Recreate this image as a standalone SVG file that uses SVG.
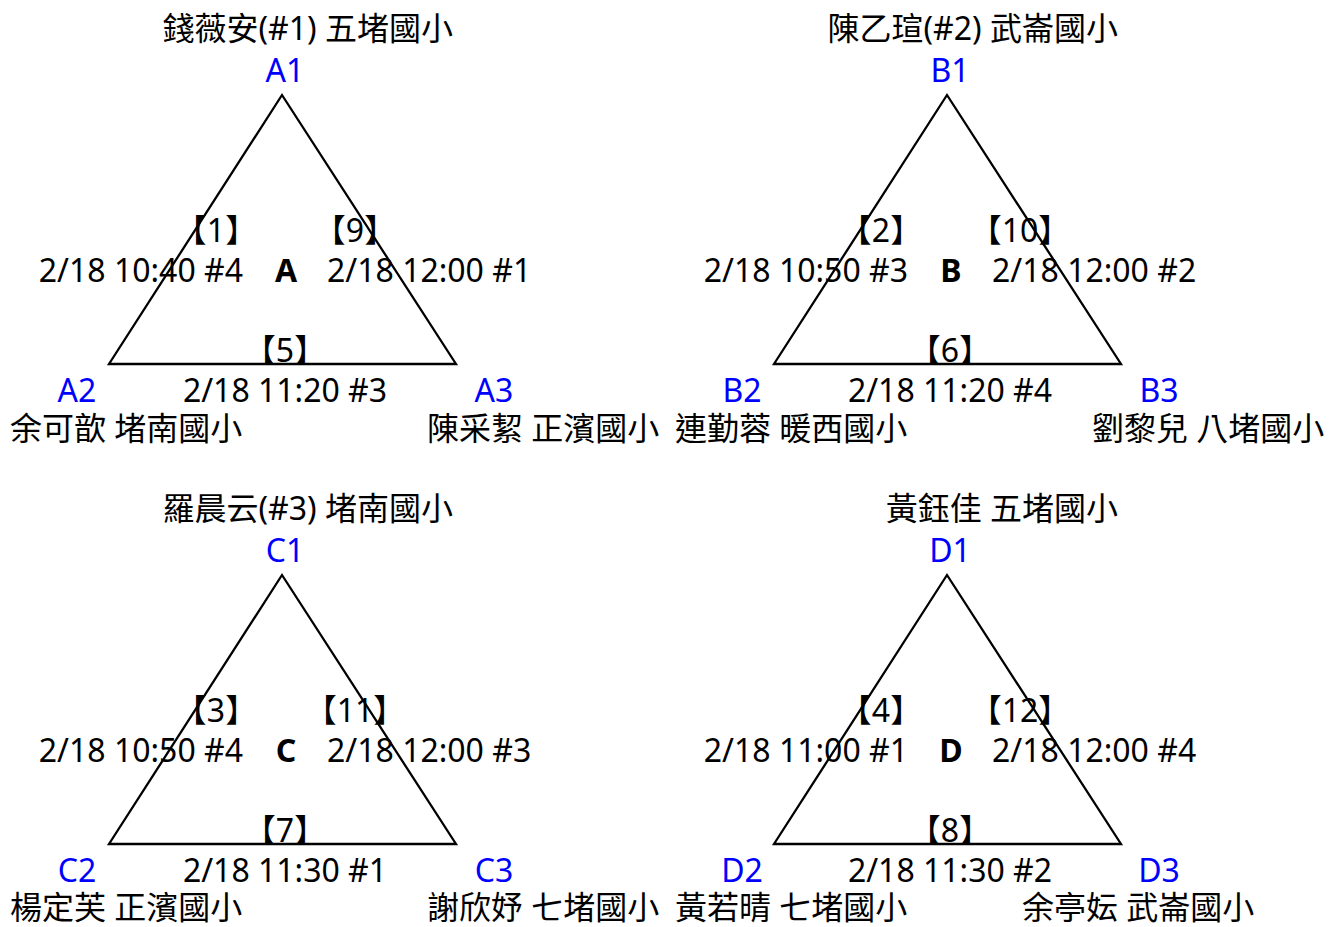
<svg xmlns="http://www.w3.org/2000/svg" width="1329" height="927" viewBox="0 0 1329 927">
<style>
text{font-family:"Noto Sans","Noto Sans CJK TC",sans-serif;font-size:32px;fill:#000}
.v{fill:#0000ff;text-anchor:middle}
.m{text-anchor:middle}
.e{text-anchor:end}
.c{text-anchor:middle;font-weight:bold}
.edge{fill:none;stroke:#000;stroke-width:2.3;stroke-linejoin:miter;stroke-miterlimit:10}
</style>
<rect width="1329" height="927" fill="#fff"/>
<g id="connectors">
<polygon class="edge" points="282,95 109,364 456,364"/>
<polygon class="edge" points="947,95 774,364 1121,364"/>
<polygon class="edge" points="282,575 109,844 456,844"/>
<polygon class="edge" points="947,575 774,844 1121,844"/>
</g>
<g id="group-A">
<g id="A1"><text class="e" x="453" y="40">錢薇安(#1) 五堵國小</text><text class="v" x="285" y="82">A1</text></g>
<g id="A2"><text class="v" x="77" y="402">A2</text><text x="10" y="440">余可歆 堵南國小</text></g>
<g id="A3"><text class="v" x="494" y="402">A3</text><text x="427" y="440">陳采絜 正濱國小</text></g>
<g id="A-labels">
<text class="c" x="286" y="282">A</text>
<text class="m" x="216" y="242">【1】</text><text class="e" x="243" y="282">2/18 10:40 #4</text>
<text class="m" x="355" y="242">【9】</text><text x="327" y="282">2/18 12:00 #1</text>
<text class="m" x="285" y="362">【5】</text><text class="m" x="285" y="402">2/18 11:20 #3</text>
</g>
</g>
<g id="group-B">
<g id="B1"><text class="e" x="1118" y="40">陳乙瑄(#2) 武崙國小</text><text class="v" x="950" y="82">B1</text></g>
<g id="B2"><text class="v" x="742" y="402">B2</text><text x="675" y="440">連勤蓉 暖西國小</text></g>
<g id="B3"><text class="v" x="1159" y="402">B3</text><text x="1092" y="440">劉黎兒 八堵國小</text></g>
<g id="B-labels">
<text class="c" x="951" y="282">B</text>
<text class="m" x="881" y="242">【2】</text><text class="e" x="908" y="282">2/18 10:50 #3</text>
<text class="m" x="1020" y="242">【10】</text><text x="992" y="282">2/18 12:00 #2</text>
<text class="m" x="950" y="362">【6】</text><text class="m" x="950" y="402">2/18 11:20 #4</text>
</g>
</g>
<g id="group-C">
<g id="C1"><text class="e" x="453" y="520">羅晨云(#3) 堵南國小</text><text class="v" x="285" y="562">C1</text></g>
<g id="C2"><text class="v" x="77" y="882">C2</text><text x="10" y="919">楊定芙 正濱國小</text></g>
<g id="C3"><text class="v" x="494" y="882">C3</text><text x="427" y="919">謝欣妤 七堵國小</text></g>
<g id="C-labels">
<text class="c" x="286" y="762">C</text>
<text class="m" x="216" y="722">【3】</text><text class="e" x="243" y="762">2/18 10:50 #4</text>
<text class="m" x="355" y="722">【11】</text><text x="327" y="762">2/18 12:00 #3</text>
<text class="m" x="285" y="842">【7】</text><text class="m" x="285" y="882">2/18 11:30 #1</text>
</g>
</g>
<g id="group-D">
<g id="D1"><text class="e" x="1118" y="520">黃鈺佳 五堵國小</text><text class="v" x="950" y="562">D1</text></g>
<g id="D2"><text class="v" x="742" y="882">D2</text><text x="675" y="919">黃若晴 七堵國小</text></g>
<g id="D3"><text class="v" x="1159" y="882">D3</text><text x="1022" y="919">余亭妘 武崙國小</text></g>
<g id="D-labels">
<text class="c" x="951" y="762">D</text>
<text class="m" x="881" y="722">【4】</text><text class="e" x="908" y="762">2/18 11:00 #1</text>
<text class="m" x="1020" y="722">【12】</text><text x="992" y="762">2/18 12:00 #4</text>
<text class="m" x="950" y="842">【8】</text><text class="m" x="950" y="882">2/18 11:30 #2</text>
</g>
</g>
</svg>
